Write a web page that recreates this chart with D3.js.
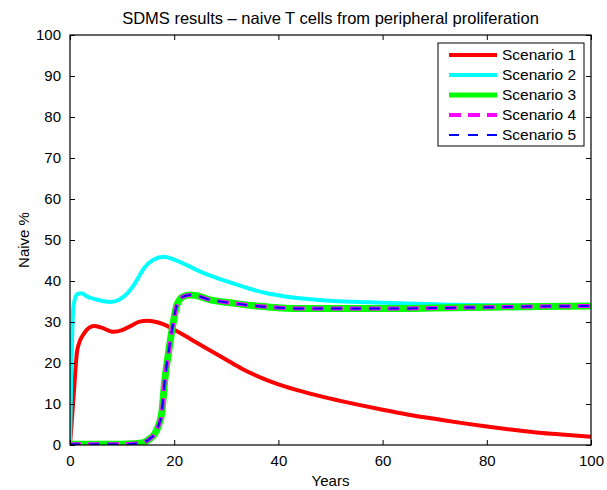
<!DOCTYPE html>
<html lang="en">
<head>
    <meta charset="UTF-8">
    <title>SDMS results - naive T cells</title>
    <script src="https://d3js.org/d3.v7.min.js"></script>
    <style>
        body { margin: 0; background: #fff; }
        svg { display: block; font-family: "Liberation Sans", Arial, Helvetica, sans-serif; }
        .tick text { font-size: 15px; fill: #000; }
        .domain { display: none; }
    </style>
</head>
<body>
<svg width="607" height="490"></svg>
<script>
    // ---- data ----
    const scenarioNames = ["Scenario 1", "Scenario 2", "Scenario 3", "Scenario 4", "Scenario 5"];
    const xTicks = [0, 20, 40, 60, 80, 100];
    const yTicks = [0, 10, 20, 30, 40, 50, 60, 70, 80, 90, 100];

    const s1Years = [0, 0.3, 0.77, 1.4, 2.7, 4.6, 5.9, 8.4, 10, 11.6, 13.4, 14.8, 16.5, 18, 20, 22, 24, 27, 30, 33, 36.5, 40, 45, 50, 55, 60, 65, 70, 75, 80, 85, 90, 95, 100];
    const s1Values = [0, 5, 13.4, 23.2, 27.2, 29, 28.7, 27.6, 28, 29, 30.1, 30.3, 30, 29.4, 28.1, 26.7, 25.2, 23.0, 20.8, 18.6, 16.5, 14.8, 12.9, 11.3, 9.9, 8.6, 7.4, 6.4, 5.4, 4.5, 3.7, 3.0, 2.5, 2.0];

    const s2Years = [0, 0.25, 0.64, 1.4, 2.2, 3.3, 5, 7.8, 9.5, 11, 12.5, 14.2, 16, 18, 20, 22.5, 25, 28, 31.3, 34.5, 37.8, 41, 44.1, 50.5, 57, 63.3, 70, 80, 90, 100];
    const s2Values = [0, 17.5, 33.7, 36.8, 37, 36.2, 35.5, 34.9, 35.5, 37, 39.5, 43.1, 45.2, 45.9, 45.2, 43.8, 42.3, 40.8, 39.4, 38.1, 37, 36.3, 35.8, 35.1, 34.8, 34.6, 34.3, 34.1, 34.0, 34.0];

    const s3Years = [0, 5, 10, 12, 14.1, 15.2, 16.3, 17, 17.6, 18.2, 18.9, 19.8, 20.5, 21.7, 23, 24, 26.9, 30, 31.3, 35, 37.8, 44.1, 50, 59.5, 63.3, 70, 80, 90, 100];
    const s3Values = [0.2, 0.2, 0.2, 0.3, 0.6, 1.4, 2.8, 4.8, 7.7, 15.9, 22.4, 29.7, 34.1, 36.2, 36.6, 36.5, 35.4, 34.8, 34.6, 34, 33.7, 33.3, 33.3, 33.3, 33.3, 33.4, 33.6, 33.8, 33.9];

    const s4Years = [0, 5, 10, 12, 14.1, 15.2, 16.3, 17, 17.6, 18.2, 18.9, 19.8, 20.5, 21.7, 23, 24, 26.9, 30, 31.3, 35, 37.8, 44.1, 50, 59.5, 63.3, 70, 80, 90, 100];
    const s4Values = [0.2, 0.2, 0.2, 0.3, 0.6, 1.4, 2.8, 4.8, 7.7, 15.9, 22.4, 29.7, 34.1, 36.2, 36.6, 36.5, 35.4, 34.8, 34.6, 34, 33.7, 33.3, 33.3, 33.3, 33.3, 33.4, 33.6, 33.8, 33.9];

    const s5Years = s4Years;
    const s5Values = s4Values;

    // styling per scenario (drawn in this order)
    const styles = [
        { color: "#ff0000", width: 4, legendWidth: 4, dash: null },
        { color: "#00ffff", width: 4, legendWidth: 4, dash: null },
        { color: "#00ff00", width: 7, legendWidth: 5, dash: null },
        { color: "#ff00ff", width: 4, legendWidth: 4, dash: "12,7", offset: 1 },
        { color: "#0000ff", width: 2, legendWidth: 2, dash: "10,9", offset: 0 }
    ];

    const series = [
        [s1Years, s1Values], [s2Years, s2Values], [s3Years, s3Values],
        [s4Years, s4Values], [s5Years, s5Values]
    ].map(([xs, ys], i) => ({ name: scenarioNames[i], points: xs.map((x, j) => [x, ys[j]]), style: styles[i] }));

    // ---- layout ----
    const svg = d3.select("svg");
    const plotLeft = 70, plotRight = 591, plotTop = 35, plotBottom = 445;

    const x = d3.scaleLinear().domain([0, 100]).range([plotLeft, plotRight]);
    const y = d3.scaleLinear().domain([0, 100]).range([plotBottom, plotTop]);

    svg.append("clipPath").attr("id", "plot-clip")
        .append("rect").attr("x", plotLeft).attr("y", plotTop)
        .attr("width", plotRight - plotLeft).attr("height", plotBottom - plotTop);

    const line = d3.line()
        .x(d => x(d[0]))
        .y(d => y(d[1]))
        .curve(d3.curveMonotoneX);

    const plot = svg.append("g").attr("clip-path", "url(#plot-clip)");
    series.forEach(s => {
        plot.append("path")
            .attr("d", line(s.points))
            .attr("fill", "none")
            .attr("stroke", s.style.color)
            .attr("stroke-width", s.style.width)
            .attr("stroke-linejoin", "round")
            .attr("stroke-dasharray", s.style.dash)
            .attr("stroke-dashoffset", s.style.offset || 0);
    });

    // axes: ticks pointing inward, on all four sides
    const tickLen = 5;
    svg.append("g").attr("transform", `translate(0,${plotBottom})`)
        .call(d3.axisBottom(x).tickValues(xTicks).tickSizeInner(-tickLen).tickSizeOuter(0).tickPadding(10));
    svg.append("g").attr("transform", `translate(0,${plotTop})`)
        .call(d3.axisTop(x).tickValues(xTicks).tickSizeInner(-tickLen).tickSizeOuter(0).tickFormat(""));
    svg.append("g").attr("transform", `translate(${plotLeft},0)`)
        .call(d3.axisLeft(y).tickValues(yTicks).tickSizeInner(-tickLen).tickSizeOuter(0).tickPadding(9));
    svg.append("g").attr("transform", `translate(${plotRight},0)`)
        .call(d3.axisRight(y).tickValues(yTicks).tickSizeInner(-tickLen).tickSizeOuter(0).tickFormat(""));

    // box
    svg.append("rect")
        .attr("x", plotLeft).attr("y", plotTop)
        .attr("width", plotRight - plotLeft).attr("height", plotBottom - plotTop)
        .attr("fill", "none").attr("stroke", "#000").attr("stroke-width", 1.2);

    // title and axis labels
    svg.append("text").attr("x", (plotLeft + plotRight) / 2).attr("y", 24)
        .attr("text-anchor", "middle").style("font-size", "16.5px")
        .text("SDMS results \u2013 naive T cells from peripheral proliferation");
    svg.append("text").attr("x", (plotLeft + plotRight) / 2).attr("y", 486)
        .attr("text-anchor", "middle").style("font-size", "15px").text("Years");
    svg.append("text").attr("transform", `translate(29,${(plotTop + plotBottom) / 2}) rotate(-90)`)
        .attr("text-anchor", "middle").style("font-size", "15px").text("Naive %");

    // legend
    const lg = svg.append("g");
    lg.append("rect").attr("x", 438).attr("y", 43).attr("width", 146).attr("height", 103)
        .attr("fill", "#fff").attr("stroke", "#000").attr("stroke-width", 1);
    series.forEach((s, i) => {
        const ly = 55 + i * 20;
        lg.append("line")
            .attr("x1", 449).attr("x2", 497).attr("y1", ly).attr("y2", ly)
            .attr("stroke", s.style.color).attr("stroke-width", s.style.legendWidth)
            .attr("stroke-dasharray", s.style.dash);
        lg.append("text").attr("x", 502).attr("y", ly + 5).style("font-size", "15.5px").text(s.name);
    });
</script>
</body>
</html>
